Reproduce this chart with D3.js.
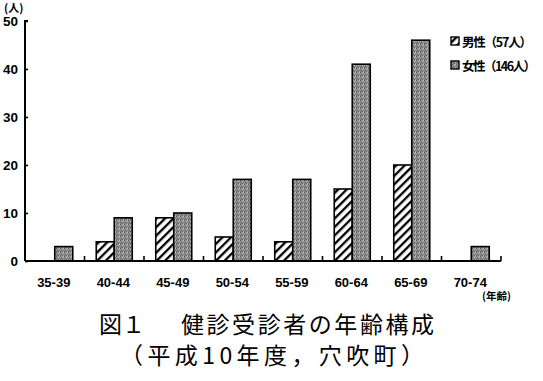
<!DOCTYPE html>
<html><head><meta charset="utf-8">
<script src="https://cdn.jsdelivr.net/npm/d3@7"></script>
<style>body{margin:0;background:#fff}svg{display:block}</style>
</head><body><div id="chart"></div>
<script>
const categories = ["35-39","40-44","45-49","50-54","55-59","60-64","65-69","70-74"];
const male   = [0,4,9,5,4,15,20,0];
const female = [3,9,10,17,17,41,46,3];
const yTicks = [0,10,20,30,40,50];
const legendLabels = ["男性（57人）","女性（146人）"];

const W=543,H=381;
const svg=d3.select("#chart").append("svg").attr("width",W).attr("height",H);
const defs=svg.append("defs");
const hatch=defs.append("pattern").attr("id","hatch").attr("patternUnits","userSpaceOnUse")
  .attr("width",6).attr("height",6).attr("patternTransform","rotate(45)");
hatch.append("rect").attr("width",6).attr("height",6).attr("fill","#fff");
hatch.append("rect").attr("x",0).attr("y",0).attr("width",2.3).attr("height",6).attr("fill","#000");
const dots=defs.append("pattern").attr("id","dots").attr("patternUnits","userSpaceOnUse")
  .attr("width",4).attr("height",4);
dots.append("rect").attr("width",4).attr("height",4).attr("fill","#8a8a8a");
[[0,0,"#555"],[2,1,"#bbb"],[1,2,"#666"],[3,3,"#aaa"],[3,0,"#c4c4c4"],[0,3,"#777"],[2,3,"#5e5e5e"],[1,0,"#9a9a9a"]]
 .forEach(([x,y,c])=>dots.append("rect").attr("x",x).attr("y",y).attr("width",1).attr("height",1).attr("fill",c));

const x=d3.scaleBand().domain(categories).range([25,501]).padding(0);
const y=d3.scaleLinear().domain([0,50]).range([261,21]);
const bw=18;
const font="'Liberation Sans',Arial,sans-serif";
const jp="'Noto Sans CJK JP'";

const g=svg.append("g");
g.selectAll(".m").data(categories).enter().append("rect")
  .filter((d,i)=>male[i]>0)
  .attr("x",d=>x(d)+x.bandwidth()/2-bw).attr("width",bw)
  .attr("y",d=>y(male[categories.indexOf(d)])).attr("height",d=>y(0)-y(male[categories.indexOf(d)]))
  .attr("fill","url(#hatch)").attr("stroke","#000").attr("stroke-width",1.6);
g.selectAll(".f").data(categories).enter().append("rect")
  .attr("x",d=>x(d)+x.bandwidth()/2).attr("width",bw)
  .attr("y",(d,i)=>y(female[i])).attr("height",(d,i)=>y(0)-y(female[i]))
  .attr("fill","url(#dots)").attr("stroke","#000").attr("stroke-width",1.6);

// y axis
const ya=d3.axisRight(y).tickValues(yTicks).tickSize(3).tickFormat("");
const yg=g.append("g").attr("transform","translate(25,0)").call(ya);
yg.select(".domain").attr("stroke-width",2).attr("d","M3,21H0V261");
yg.selectAll("line").attr("stroke-width",1.6);
g.selectAll(".yl").data(yTicks).enter().append("text")
  .attr("x",18).attr("y",d=>y(d)+5).attr("text-anchor","end")
  .attr("font-family",font).attr("font-weight","bold").attr("font-size",13.5).text(d=>d);
svg.append("text").attr("x",4).attr("y",12).attr("font-family",jp)
  .attr("font-weight","bold").attr("font-size",11).text("(人)");

// x axis
g.append("line").attr("x1",25).attr("x2",501).attr("y1",261).attr("y2",261).attr("stroke","#000").attr("stroke-width",2);
const bounds=categories.map(c=>x(c)+x.bandwidth());
g.selectAll(".xt").data(bounds).enter().append("line")
  .attr("x1",d=>d).attr("x2",d=>d).attr("y1",261).attr("y2",256).attr("stroke","#000").attr("stroke-width",1.6);
g.selectAll(".xl").data(categories).enter().append("text")
  .attr("x",d=>x(d)+x.bandwidth()/2-1).attr("y",287).attr("text-anchor","middle")
  .attr("font-family",font).attr("font-weight","bold").attr("font-size",13).text(d=>d);
svg.append("text").attr("x",482).attr("y",300).attr("font-family",jp)
  .attr("font-weight","bold").attr("font-size",10.5).text("(年齢)");

// legend
const lg=svg.append("g");
["url(#hatch)","url(#dots)"].forEach((f,i)=>{
  lg.append("rect").attr("x",451).attr("y",37+i*24).attr("width",8).attr("height",8)
    .attr("fill",f).attr("stroke","#000").attr("stroke-width",1.4);
  lg.append("text").attr("x",462).attr("y",46.5+i*24).attr("font-family",jp)
    .attr("font-weight","bold").attr("font-size",12.5).attr("textLength",i?74:70).text(legendLabels[i]);
});

// title
svg.append("text").attr("x",99).attr("y",333).attr("font-family",jp).attr("font-size",23).text("図１");
svg.append("text").attr("x",181).attr("y",333).attr("font-family",jp).attr("font-size",23).attr("textLength",253).text("健診受診者の年齢構成");
svg.append("text").attr("x",120).attr("y",364).attr("font-family",jp).attr("font-size",23).attr("textLength",304).text("（平成10年度，穴吹町）");
</script></body></html>
